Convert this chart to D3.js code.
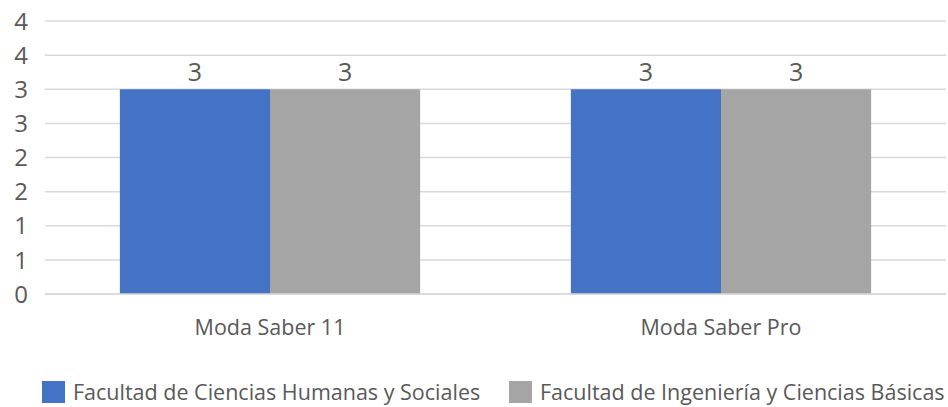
<!DOCTYPE html>
<html><head><meta charset="utf-8">
<script src="https://cdn.jsdelivr.net/npm/d3@7/dist/d3.min.js"></script>
<style>body{margin:0;background:#fff}svg{display:block}text{font-family:"Open Sans",sans-serif;fill:#595959}</style>
</head><body><svg id="c" width="948" height="407"></svg>
<script>
const categories = ["Moda Saber 11", "Moda Saber Pro"];
const seriesNames = ["Facultad de Ciencias Humanas y Sociales", "Facultad de Ingeniería y Ciencias Básicas"];
const humanas = [3, 3];
const ingenieria = [3, 3];
const yTicks = [0, 0.5, 1, 1.5, 2, 2.5, 3, 3.5, 4];
const colors = ["#4472C4", "#A5A5A5"];

const svg = d3.select("#c");
const x0 = d3.scaleBand().domain(categories).range([44.5, 946.5]).paddingInner(0).paddingOuter(0);
const x1 = d3.scaleBand().domain([0,1]).range([0, x0.bandwidth()]).paddingOuter(0.502).paddingInner(0);
const y = d3.scaleLinear().domain([0, 4]).range([294, 21]);

svg.append("g").selectAll("line").data(yTicks).join("line")
  .attr("x1", 45).attr("x2", 946)
  .attr("y1", d => y(d)).attr("y2", d => y(d))
  .attr("stroke", "#D9D9D9").attr("stroke-width", 1.5);

svg.append("g").selectAll("text").data(yTicks).join("text")
  .attr("x", 28).attr("y", d => y(d)).attr("dy", "0.36em")
  .attr("text-anchor", "end").attr("font-size", 24)
  .text(d => d3.format(".0f")(d));

const series = [humanas, ingenieria];
const data = [];
categories.forEach((c, i) => series.forEach((s, j) => data.push({c, j, v: s[i]})));

svg.append("g").selectAll("rect").data(data).join("rect")
  .attr("x", d => x0(d.c) + x1(d.j))
  .attr("width", x1.bandwidth())
  .attr("y", d => y(d.v))
  .attr("height", d => y(0) - y(d.v))
  .attr("fill", d => colors[d.j]);

svg.append("g").selectAll("text").data(data).join("text")
  .attr("x", d => x0(d.c) + x1(d.j) + x1.bandwidth()/2)
  .attr("y", d => y(d.v) - 8)
  .attr("text-anchor", "middle").attr("font-size", 25)
  .text(d => d3.format(".0f")(d.v));

svg.append("line").attr("x1", 45).attr("x2", 946).attr("y1", y(0)).attr("y2", y(0))
  .attr("stroke", "#D9D9D9").attr("stroke-width", 1.5);

svg.append("g").selectAll("text").data(categories).join("text")
  .attr("x", d => x0(d) + x0.bandwidth()/2)
  .attr("y", 335)
  .attr("text-anchor", "middle").attr("font-size", 21.5)
  .text(d => d);

const legX = [42, 509];
const lg = svg.append("g").selectAll("g").data(seriesNames).join("g")
  .attr("transform", (d, i) => `translate(${legX[i]},381)`);
lg.append("rect").attr("width", 23).attr("height", 22).attr("fill", (d, i) => colors[i]);
lg.append("text").attr("x", 31).attr("y", 11).attr("dy", "0.36em")
  .attr("font-size", 21.5).text(d => d);
</script></body></html>
